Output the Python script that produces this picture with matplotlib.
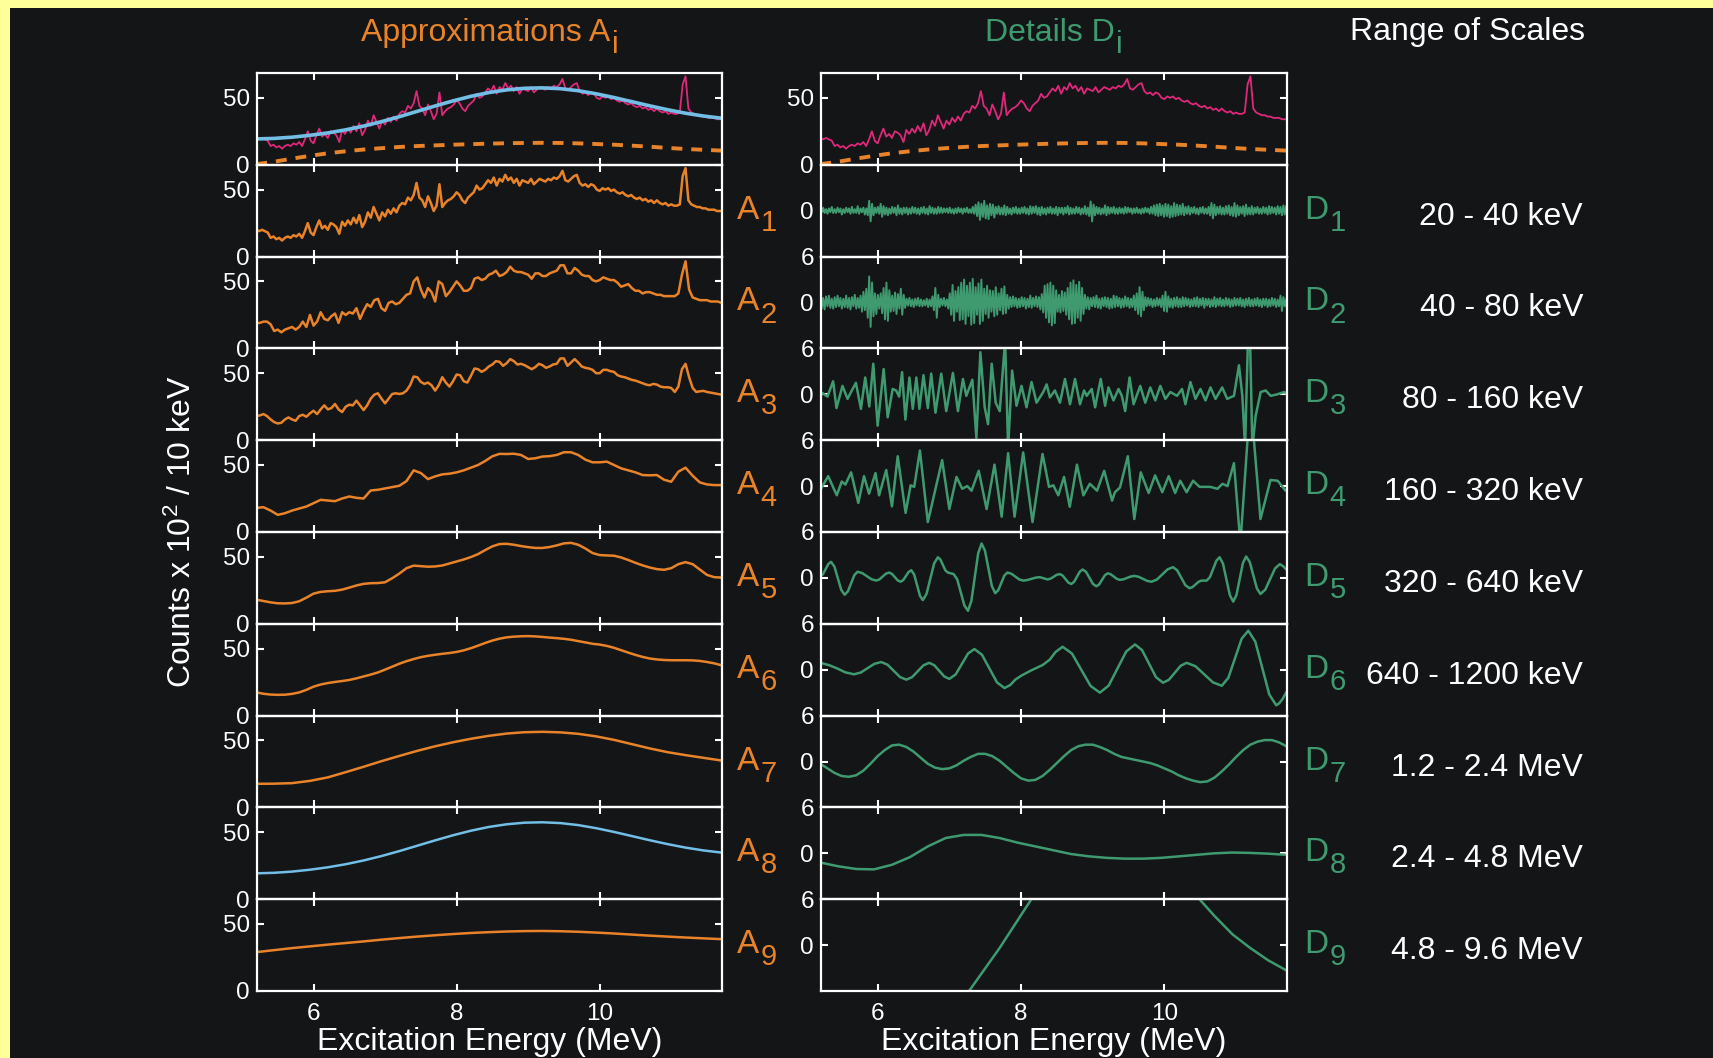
import numpy as np
import matplotlib
matplotlib.use("Agg")
import matplotlib.pyplot as plt
from matplotlib.patches import Rectangle

plt.rcParams['font.family'] = ['Liberation Sans', 'DejaVu Sans']

# ---------------- data ----------------
E_MIN, E_MAX = 5.2, 11.7

# raw spectrum (counts x 10^2 / 10 keV), 5.20 .. 11.72 MeV
spectrum = [20,19,20,19,18,14,15,13,14,12,14,15,14,16,15,17,14,19,25,18,
            16,22,27,21,23,20,25,24,22,17,26,23,27,24,29,25,31,22,26,33,
            29,37,32,27,33,30,35,32,36,33,38,40,39,44,42,
            46,55,44,42,37,45,40,34,38,54,37,40,42,43,45,48,46,42,40,44,46,48,53,50,51,
            54,57,55,59,53,58,56,61,57,59,55,58,53,57,56,55,58,54,56,58,
            57,56,58,57,59,58,60,64,57,56,58,60,61,55,53,54,52,54,53,50,
            49,51,50,51,49,50,48,47,48,46,45,46,44,43,44,42,43,41,42,40,
            42,40,39,40,38,39,38,38,39,60,66,42,39,38,37,37,36,36,35,35,
            35,34,34,34]

# smooth background (dashed)
background = [0.5,2.3,4.6,6.7,8.6,10.1,11.4,12.4,13.3,14.0,14.5,15.0,15.4,15.8,
              16.1,16.3,16.4,16.3,16.0,15.5,15.0,14.3,13.5,12.6,11.8,11.2,10.6]

a2 = [19,19,20,20,18,13,14,12,14,15,16,14,16,20,16,25,17,20,27,22,21,24,26,19,27,25,
      27,26,30,22,28,33,31,36,37,30,28,34,35,33,34,37,40,41,50,53,44,38,45,42,35,50,
      48,39,42,46,50,47,43,43,45,52,53,51,52,55,56,58,54,55,57,61,58,57,57,56,55,52,
      56,56,54,54,56,57,58,62,62,56,56,60,58,55,54,54,51,50,51,53,52,51,51,49,46,47,
      48,45,43,43,41,42,42,41,40,40,39,39,39,39,41,55,65,44,38,37,36,36,36,35,35,35,34]

a3 = [18,18.5,19.5,18,15.5,13.5,12.5,13,15.5,17,15.5,14.5,18,19,17.5,20,22,19.5,23,26,
      23,24,27,23,21,25,26.5,26,29.5,26,22.5,26,31,34,35,31,27.5,31,34.5,35,34.5,35,37,
      41,47.5,47,43.5,42,43,41,37,41,47,43,40,44,49,48.5,44,43,48,53.5,53,51,52.5,55,
      56.5,59,58.5,55.5,57.5,60.5,59,56.5,57,56,54.5,53,54.5,57,56,54,55,56.5,57,61,61,
      55.5,58,60.5,58,55,54,53.5,52.5,50,50,52.5,52.5,51.5,51,48.5,47.5,47,46,45,44.5,
      43.5,42.5,41.5,41,42,41.5,40,39.5,39.5,39,36,40,53,57,47,39,36,36.5,36.8,36,35.5,
      35,34.5,34]

a4 = [18,18.5,16,12.8,14,16,17.5,19,21.5,24,23.5,23,25,26.5,25.5,25,31,31.5,32.5,33.5,
      34.5,38,46,44,39.5,41.5,43,43.5,44.5,46,48,50,53,56.5,58.3,58.2,58.4,57.5,54.5,55,
      56.3,56.6,57.5,59.5,59.5,57.5,54,52,52,52.5,50,47.5,46,44.5,42.5,42.3,42.5,39,37.5,
      45,48,42,37,35.5,35,35]

a5 = [18,17,16,15.3,15.2,15.5,16.8,19.5,22.5,23.8,24.3,24.6,25.5,27,28.6,29.8,30.3,30.4,
      31,34,37.5,41.5,43.4,43,42.6,42.8,43.5,45,46.5,48,49.8,52,55,57.8,59.5,59.7,59,58,
      57.2,56.6,56.6,57.3,58.5,60,60.4,59,56.2,52.8,51.3,51,50.8,49.5,47.6,45.5,43.6,42,
      40.8,40.3,41.5,44.5,46,44.5,40.5,36.5,34.8,34.5]

a6 = [17.3,16.3,15.7,15.5,15.6,16.2,17.3,19.2,21.6,23.2,24.3,25.1,25.8,26.6,27.8,29.2,
      30.6,32.2,34.3,36.5,38.7,40.6,42.2,43.6,44.6,45.4,46.1,46.7,47.5,48.7,50.3,52.2,
      54.2,56,57.4,58.4,58.9,59.2,59.3,59.1,58.7,58.2,57.8,57.3,56.6,55.6,54.6,53.6,53,
      52,50.6,48.8,47,45.3,43.8,42.6,41.9,41.5,41.3,41.3,41.3,41.2,40.8,40,39,37.6]

a7 = [17.6,17.7,18.1,19.8,22.4,26.3,30.3,34.5,38.4,42.2,45.6,48.6,51.2,53.4,55.1,56.1,
      56.4,56,54.9,53,50.4,47.2,44,41.2,39,37,35]

a8 = [19.3,19.7,20.6,22,23.8,26.1,28.9,32.2,35.9,39.9,43.9,47.7,51.1,53.9,55.9,57.1,
      57.4,56.8,55.3,53,50.2,47.1,44,41.1,38.5,36.4,34.8]

a9 = [29,30.5,32,33.3,34.6,35.8,37,38.3,39.5,40.6,41.6,42.5,43.3,43.9,44.4,44.7,44.8,
      44.6,44.2,43.6,42.9,42.1,41.3,40.6,39.9,39.3,38.7]

d1 = [0.3,-0.2,0.4,-0.3,0.2,-0.4,0.3,-0.2,0.5,-0.3, 0.2,-0.3,0.4,-0.2,0.3,-0.5,0.2,-0.3,0.4,-0.2,
      0.3,-0.4,0.5,-0.3,0.2,-0.3,0.6,-0.4,0.3,-0.2, 0.4,-0.5,0.3,-0.6,1.3,-1.4,0.9,-0.6,0.4,-0.3,
      0.5,-0.4,0.9,-0.8,0.6,-0.5,0.4,-0.6,0.3,-0.4, 0.5,-0.3,0.4,-0.6,0.7,-0.4,0.3,-0.5,0.4,-0.3,
      0.4,-0.5,0.3,-0.4,0.5,-0.3,0.4,-0.4,0.3,-0.5, 0.4,-0.3,0.5,-0.4,0.3,-0.5,0.6,-0.3,0.4,-0.4,
      0.3,-0.4,0.5,-0.3,0.4,-0.3,0.3,-0.2,0.3,-0.3, 0.4,-0.3,0.2,-0.4,0.3,-0.3,0.4,-0.2,0.3,-0.4,
      0.3,-0.2,0.4,-0.3,0.2,-0.3,0.5,-0.4,0.8,-0.7, 1.1,-1.2,0.9,-0.8,1.3,-1.0,0.7,-1.1,0.9,-0.6,
      0.8,-0.9,0.5,-0.4,0.6,-0.5,0.4,-0.5,0.7,-0.6, 0.5,-0.4,0.3,-0.5,0.4,-0.3,0.5,-0.4,0.3,-0.4,
      0.4,-0.3,0.5,-0.4,0.3,-0.5,0.6,-0.4,0.5,-0.3, 0.6,-0.5,0.4,-0.6,0.5,-0.4,0.3,-0.5,0.4,-0.3,
      0.5,-0.4,0.3,-0.4,0.5,-0.6,0.4,-0.3,0.4,-0.5, 0.4,-0.3,0.6,-0.5,0.4,-0.4,0.3,-0.4,0.5,-0.3,
      0.4,-0.5,0.3,-0.4,0.6,-0.5,0.4,-0.7,1.2,-1.4, 0.8,-0.6,0.5,-0.4,0.4,-0.5,0.3,-0.4,0.7,-0.6,
      0.5,-0.4,0.4,-0.3,0.5,-0.4,0.3,-0.4,0.4,-0.3, 0.3,-0.4,0.5,-0.3,0.4,-0.2,0.3,-0.4,0.3,-0.3,
      0.4,-0.3,0.2,-0.4,0.3,-0.3,0.4,-0.2,0.3,-0.4, 0.5,-0.4,0.7,-0.6,0.8,-0.7,0.9,-0.6,0.7,-0.8,
      0.9,-0.7,0.8,-0.9,0.6,-0.8,1.0,-0.7,0.8,-0.6, 0.7,-0.5,0.9,-0.6,0.5,-0.4,0.6,-0.5,0.4,-0.3,
      0.5,-0.4,0.3,-0.5,0.4,-0.3,0.5,-0.4,0.3,-0.4, 0.5,-0.6,1.0,-1.0,0.8,-0.6,0.5,-0.4,0.6,-0.5,
      0.4,-0.5,0.6,-0.4,0.7,-0.6,0.5,-0.7,1.0,-0.8, 0.7,-0.6,0.5,-0.4,0.6,-0.7,0.8,-0.5,0.4,-0.5,
      0.6,-0.5,0.4,-0.3,0.5,-0.4,0.3,-0.4,0.5,-0.3, 0.4,-0.5,0.6,-0.4,0.5,-0.3,0.4,-0.5,0.6,-0.4,
      0.5,-0.6,0.7,-0.5,0.6]

d2 = [1.2,-0.8,0.6,-0.9,0.8,-0.5,0.9,-0.7,0.5,-0.8, 0.7,-0.6,0.9,-0.5,0.6,-0.8,0.5,-0.6,0.9,-0.7,
      0.6,-0.9,0.7,-0.5,1.0,-0.8,0.6,-0.7,0.9,-1.2, 1.4,-1.0,1.8,-2.0,3.4,-3.2,2.6,-1.8,1.2,-1.5,
      1.0,-0.8,1.2,-1.4,1.9,-2.2,2.6,-2.4,1.6,-1.2, 0.9,-1.1,1.3,-1.5,1.1,-0.8,1.8,-1.6,1.0,-0.7,
      0.5,-0.4,0.6,-0.5,0.4,-0.6,0.5,-0.4,0.6,-0.5, 0.4,-0.5,0.3,-0.4,0.5,-0.6,0.4,-0.5,0.8,-1.0,
      1.9,-2.0,1.0,-0.6,0.5,-0.4,0.6,-0.5,0.4,-0.8, 1.2,-1.6,2.3,-2.4,1.5,-1.2,2.0,-2.3,2.6,-2.2,
      3.0,-2.8,2.2,-1.8,2.6,-2.9,3.1,-2.7,2.0,-1.6, 2.5,-2.8,3.0,-2.4,1.8,-1.5,2.2,-2.0,1.6,-1.2,
      1.5,-1.8,2.0,-1.6,1.2,-1.0,1.8,-1.5,2.1,-1.4, 1.0,-0.8,0.7,-0.6,0.8,-0.5,0.6,-0.7,0.5,-0.6,
      0.7,-0.5,0.6,-0.8,0.5,-0.6,0.9,-0.7,0.6,-0.5, 0.8,-0.6,0.7,-0.9,1.1,-1.3,2.2,-2.0,2.4,-2.6,
      2.6,-3.0,2.2,-2.7,1.6,-1.2,1.0,-1.3,1.5,-1.1, 1.3,-1.6,1.9,-2.2,2.6,-2.8,2.9,-2.7,2.3,-2.0,
      2.7,-2.4,1.9,-1.5,1.0,-0.8,0.7,-0.9,0.6,-0.5, 0.7,-0.6,0.9,-0.7,0.5,-0.8,0.6,-0.5,0.7,-0.6,
      0.6,-0.8,0.5,-0.7,0.9,-0.6,0.8,-0.5,0.6,-0.7, 0.5,-0.6,0.8,-0.5,0.6,-0.7,0.5,-0.6,0.9,-1.0,
      1.2,-1.5,2.0,-1.8,1.4,-1.0,0.7,-0.5,0.6,-0.4, 0.5,-0.6,0.4,-0.5,0.6,-0.4,0.5,-0.6,0.9,-1.1,
      1.4,-1.2,0.8,-0.6,0.5,-0.7,0.6,-0.5,0.7,-0.6, 0.5,-0.6,0.7,-0.5,0.6,-0.4,0.5,-0.6,0.4,-0.5,
      0.6,-0.5,0.7,-0.6,0.5,-0.4,0.6,-0.7,0.5,-0.4, 0.5,-0.6,0.4,-0.5,0.7,-0.6,0.5,-0.4,0.6,-0.5,
      0.4,-0.5,0.6,-0.4,0.5,-0.6,0.4,-0.5,0.6,-0.4, 0.5,-0.4,0.6,-0.5,0.4,-0.6,0.5,-0.4,0.6,-0.5,
      0.4,-0.5,0.5,-0.4,0.6,-0.5,0.4,-0.6,0.5,-0.4, 0.5,-0.6,0.4,-0.5,0.6,-0.4,0.5,-0.6,0.4,-0.5,
      0.9,-1.1,0.7,-0.5,0.4]

d3_e = [5.207,5.30,5.379,5.426,5.510,5.580,5.640,5.697,5.767,5.827,5.883,5.939,6.000,6.084,
        6.140,6.210,6.257,6.300,6.341,6.387,6.443,6.490,6.540,6.583,6.639,6.700,6.747,6.807,
        6.887,6.957,7.050,7.120,7.190,7.237,7.321,7.377,7.433,7.493,7.540,7.591,7.647,7.703,
        7.778,7.820,7.876,7.937,8.007,8.077,8.147,8.217,8.310,8.357,8.403,8.473,8.543,8.613,
        8.683,8.753,8.823,8.879,8.916,8.986,9.033,9.112,9.173,9.220,9.290,9.360,9.406,9.453,
        9.514,9.570,9.663,9.733,9.803,9.873,9.943,10.013,10.083,10.176,10.246,10.293,10.363,
        10.433,10.503,10.573,10.643,10.713,10.806,10.876,10.970,11.040,11.087,11.125,11.165,
        11.195,11.227,11.273,11.343,11.413,11.483,11.576,11.670,11.71]
d3_v = [0.3,-0.3,1.7,-1.8,1.1,-0.6,0.5,1.5,-1.9,2.2,-1.6,4.0,-4.1,3.3,
        -3.0,0.7,0.5,-0.3,2.9,-3.3,2.2,-1.9,2.2,-1.9,2.5,-1.8,2.7,-2.4,
        2.7,-2.2,2.8,-2.2,2.0,-0.2,1.9,-5.7,5.5,-1.7,-3.9,4.0,-1.1,-2.2,
        7.0,-7.0,3.1,-1.5,1.1,-1.7,1.6,-1.1,0.3,1.3,-0.4,0.5,-1.1,2.0,
        -1.3,2.0,-1.3,0.5,-0.2,0.7,-1.7,2.0,-1.5,0.9,-0.8,0.7,-0.2,-2.2,
        2.2,-1.3,1.1,-1.1,0.9,-0.8,1.1,-0.6,0.3,-0.2,0.7,-1.3,1.6,
        -0.6,0.7,-0.8,0.9,-0.6,0.9,-0.6,-0.2,3.8,-0.2,-7.0,7.0,
        7.0,-7.0,-2.8,0.3,0.5,-0.2,0.0,0.3,0.1]

d4_e = [5.21,5.31,5.43,5.50,5.55,5.63,5.73,5.81,5.88,5.97,6.02,6.12,6.20,6.28,6.39,6.46,
        6.51,6.59,6.70,6.90,7.00,7.10,7.18,7.25,7.31,7.41,7.52,7.63,7.73,7.82,7.91,8.03,
        8.16,8.30,8.39,8.45,8.52,8.60,8.68,8.78,8.87,8.96,9.06,9.16,9.27,9.31,9.38,9.49,
        9.58,9.67,9.78,9.87,9.97,10.06,10.15,10.22,10.31,10.40,10.49,10.64,10.74,10.81,
        10.88,10.97,11.06,11.17,11.24,11.34,11.48,11.58,11.69,11.71]
d4_v = [-0.35,1.3,-1.2,0.6,0.2,1.8,-2.2,1.3,-1.0,1.7,-1.2,2.1,-2.65,3.9,-3.5,0.1,
        -0.1,4.65,-4.7,3.4,-3.0,1.2,-0.35,0.0,-0.6,2.0,-3.0,2.8,-4.0,4.3,-4.0,4.4,
        -4.7,4.2,-0.1,0.1,-1.2,1.2,-2.7,2.8,-1.2,0.3,-0.6,2.0,-1.9,-0.8,-0.2,3.9,
        -4.3,1.8,-0.9,1.4,-0.8,1.3,-0.9,0.7,-0.8,0.7,-0.1,-0.1,-0.35,0.3,
        0.0,3.0,-7.5,7.5,7.0,-4.3,0.8,0.7,-0.6,-0.5]

d5_e = [5.20,5.2375,5.275,5.3125,5.35,5.3975,5.445,5.4925,5.54,5.585,5.63,5.675,5.72,
        5.785,5.85,5.915,5.98,6.025,6.07,6.115,6.16,6.20,6.24,6.28,6.32,6.3575,6.395,
        6.4325,6.47,6.51,6.55,6.59,6.63,6.6825,6.735,6.7875,6.84,6.875,6.91,6.945,6.98,
        7.06,7.11,7.16,7.21,7.26,7.3075,7.355,7.4025,7.45,7.4975,7.545,7.5925,7.64,
        7.6825,7.725,7.7675,7.81,7.865,7.92,7.975,8.03,8.0875,8.145,8.2025,8.26,8.315,
        8.37,8.4125,8.455,8.4975,8.54,8.58,8.62,8.66,8.70,8.74,8.78,8.82,8.86,8.9075,
        8.955,9.0025,9.05,9.09,9.13,9.17,9.21,9.2525,9.295,9.3375,9.38,9.43,9.48,9.53,
        9.58,9.64,9.70,9.76,9.82,9.895,9.97,10.045,10.12,10.1775,10.235,10.2925,10.35,
        10.3925,10.435,10.4775,10.52,10.59,10.635,10.68,10.725,10.77,10.8175,10.865,
        10.9125,10.96,11.005,11.05,11.095,11.14,11.19,11.24,11.29,11.34,11.4075,11.475,
        11.5425,11.61,11.66,11.71]
d5_v = [0.2,0.48,1.15,1.82,2.1,1.47,-0.05,-1.57,-2.2,-1.76,-0.7,0.36,0.8,
        0.63,0.23,-0.18,-0.35,-0.2,0.18,0.55,0.7,0.52,0.1,-0.32,-0.5,-0.28,0.25,
        0.78,1.0,0.43,-0.95,-2.33,-2.9,-2.08,-0.1,1.88,2.7,2.41,1.7,0.99,0.7,
        0.5,-0.2,-1.9,-3.6,-4.3,-3.02,0.1,3.22,4.5,3.55,1.25,-1.05,-2.0,
        -1.61,-0.65,0.31,0.7,0.55,0.18,-0.2,-0.35,-0.28,-0.13,0.03,0.1,-0.05,
        -0.2,-0.1,0.15,0.4,0.5,0.31,-0.15,-0.61,-0.8,-0.52,0.15,0.82,1.1,0.78,
        0.0,-0.78,-1.1,-0.85,-0.25,0.35,0.6,0.47,0.17,-0.13,-0.26,-0.18,0.0,0.18,
        0.26,0.15,-0.12,-0.39,-0.5,-0.22,0.45,1.12,1.4,1.0,0.03,-0.95,-1.35,
        -1.2,-0.85,-0.5,-0.35,-0.35,0.1,1.18,2.25,2.7,1.85,-0.2,
        -2.25,-3.1,-2.24,-0.15,1.94,2.8,2.08,0.35,-1.38,-2.1,-1.53,-0.15,
        1.23,1.8,1.5,1.0]

d6_e = [5.20,5.32,5.44,5.55,5.67,5.765,5.86,5.955,6.05,6.1375,6.225,6.3125,6.40,6.48,6.56,
        6.64,6.72,6.79,6.86,6.93,7.00,7.0875,7.175,7.2625,7.35,7.455,7.56,7.665,7.77,7.85,
        7.92,8.00,8.14,8.30,8.40,8.48,8.58,8.71,8.84,8.97,9.10,9.2225,9.345,9.4675,9.59,
        9.6875,9.785,9.8825,9.98,10.0625,10.145,10.2275,10.31,10.4325,10.555,10.6775,10.80,
        10.8925,10.985,11.0775,11.17,11.2675,11.365,11.4625,11.56,11.60,11.65,11.71]
d6_v = [0.9,0.6,0.15,-0.35,-0.6,-0.37,0.2,0.77,1.0,0.66,-0.15,-0.96,-1.3,-0.98,-0.2,
        0.58,0.9,0.59,-0.15,-0.89,-1.2,-0.63,0.75,2.13,2.7,1.96,0.15,-1.66,-2.4,-2.0,
        -1.3,-0.8,-0.1,0.6,1.3,2.3,3.0,2.12,0.0,-2.12,-3.0,-2.08,0.15,2.38,3.3,
        2.57,0.8,-0.97,-1.7,-1.32,-0.4,0.52,0.9,0.46,-0.6,-1.66,-2.1,
        -1.05,1.5,4.05,5.1,3.68,0.23,-3.23,-4.65,-4.4,-3.8,-2.8]

d7 = [-0.3,-0.9,-1.5,-1.9,-2.0,-1.8,-1.2,-0.3,0.7,1.5,2.1,2.2,1.9,1.3,0.5,-0.3,-0.8,-1.0,
      -0.9,-0.5,0.1,0.6,1.0,1.0,0.7,0.1,-0.7,-1.5,-2.2,-2.5,-2.4,-1.9,-1.1,-0.2,0.7,1.5,
      2.0,2.2,2.2,1.9,1.5,1.0,0.6,0.4,0.2,0.0,-0.2,-0.5,-0.9,-1.3,-1.8,-2.2,-2.5,-2.7,
      -2.6,-2.1,-1.3,-0.4,0.6,1.5,2.2,2.6,2.8,2.8,2.5,2.0]

d8 = [-1.2,-1.7,-2.05,-2.1,-1.5,-0.5,0.9,2.0,2.4,2.4,2.0,1.4,0.9,0.4,-0.1,-0.4,-0.6,
      -0.7,-0.7,-0.6,-0.4,-0.2,0.0,0.1,0.05,-0.05,-0.2]

d9 = [-25,-24,-22.5,-20.5,-18,-15.5,-13,-10.5,-7,-3.7,-0.4,3.2,6.8,10,12.5,14,14.5,14,
      12.5,10.5,8.5,6.4,3.8,1.4,-0.4,-2,-3.3]

range_labels = ['20 - 40 keV', '40 - 80 keV', '80 - 160 keV', '160 - 320 keV',
                '320 - 640 keV', '640 - 1200 keV', '1.2 - 2.4 MeV', '2.4 - 4.8 MeV',
                '4.8 - 9.6 MeV']

# ---------------- style ----------------
BG = '#141517'
YELLOW = '#FFFF99'
ORANGE = '#E8832A'
GREEN = '#3F9A70'
PINK = '#E0287A'
BLUE = '#72BEE6'
WHITE = 'white'

W, H = 1713, 1058
fig = plt.figure(figsize=(W / 100, H / 100), dpi=100, facecolor=BG)
renderer = fig.canvas.get_renderer()
fig.patches.append(Rectangle((0, 1 - 8 / H), 1, 8 / H, transform=fig.transFigure,
                             facecolor=YELLOW, edgecolor='none', zorder=-5))
fig.patches.append(Rectangle((0, 0), 10 / W, 1, transform=fig.transFigure,
                             facecolor=YELLOW, edgecolor='none', zorder=-5))

TOP, BOT = 73, 991
NROW = 10
PH = (BOT - TOP) / NROW
LX0, LX1 = 257, 722
RX0, RX1 = 821, 1287


def make_ax(x0, x1, k):
    yt = TOP + k * PH
    ax = fig.add_axes([x0 / W, 1 - (yt + PH) / H, (x1 - x0) / W, PH / H])
    ax.set_facecolor('none')
    for s in ax.spines.values():
        s.set_color(WHITE)
        s.set_linewidth(1.6)
    ax.set_xlim(5.21, 11.71)
    ax.set_xticks([6, 8, 10])
    ax.tick_params(axis='both', direction='in', top=True, right=True, length=5,
                   width=1.5, color=WHITE, labelcolor=WHITE, labelsize=17.5)
    ax.tick_params(axis='y', pad=5)
    ax.tick_params(axis='x', pad=9)
    if k < NROW - 1:
        ax.tick_params(axis='x', labelbottom=False)
    return ax


def grid(vals):
    return np.linspace(E_MIN, E_MAX, len(vals))


def sub_label(x_px, base_px, main, sub, color, size=24, subsize=21, drop=12,
              ha='left'):
    t = fig.text(0, 0, main, fontsize=size, color=color, ha='left', va='baseline')
    s = fig.text(0, 0, sub, fontsize=subsize, color=color, ha='left', va='baseline')
    wm = t.get_window_extent(renderer).width
    ws = s.get_window_extent(renderer).width
    gap = 1.5
    x0 = x_px if ha == 'left' else x_px - (wm + gap + ws) / 2
    t.set_position((x0 / W, 1 - base_px / H))
    s.set_position(((x0 + wm + gap) / W, 1 - (base_px + drop) / H))


x_spec = np.linspace(5.2, 11.72, len(spectrum))

approx = [spectrum, a2, a3, a4, a5, a6, a7, a8, a9]
approx_x = [x_spec] + [grid(v) for v in approx[1:]]
details = [(grid(d1), d1), (grid(d2), d2), (d3_e, d3_v), (d4_e, d4_v), (d5_e, d5_v),
           (d6_e, d6_v), (grid(d7), d7), (grid(d8), d8), (grid(d9), d9)]

# left column
for k in range(NROW):
    ax = make_ax(LX0, LX1, k)
    ax.set_ylim(0, 68.5)
    ax.set_yticks([0, 50])
    if k == 0:
        ax.plot(x_spec, spectrum, color=PINK, lw=1.3)
        ax.plot(grid(a8), a8, color=BLUE, lw=2.6)
        ax.plot(grid(background), background, color=ORANGE, lw=2.8,
                linestyle=(0, (2.8, 2.3)))
    else:
        col = BLUE if k == 8 else ORANGE
        ax.plot(approx_x[k - 1], approx[k - 1], color=col, lw=1.8)
    if k == NROW - 1:
        ax.set_xticklabels(['6', '8', '10'])

# right column
for k in range(NROW):
    ax = make_ax(RX0, RX1, k)
    if k == 0:
        ax.set_ylim(0, 68.5)
        ax.set_yticks([0, 50])
        ax.plot(x_spec, spectrum, color=PINK, lw=1.3)
        ax.plot(grid(background), background, color=ORANGE, lw=2.8,
                linestyle=(0, (2.8, 2.3)))
    else:
        ax.set_ylim(-6, 6)
        ax.set_yticks([0] if k == 1 else [0, 6])
        dx, dy = details[k - 1]
        ax.plot(dx, dy, color=GREEN, lw=1.4 if k <= 2 else 1.8)
    if k == NROW - 1:
        ax.set_xticklabels(['6', '8', '10'])

# row labels
for k in range(1, NROW):
    cy = TOP + PH * (k + 0.5)
    sub_label(737, cy + 8, 'A', str(k), ORANGE)
    sub_label(1304, cy + 8, 'D', str(k), GREEN)
    fig.text(1583 / W, 1 - (cy + 14) / H, range_labels[k - 1], color=WHITE,
             fontsize=23, ha='right', va='baseline')

# titles
sub_label((LX0 + LX1) / 2, 41, 'Approximations A', 'i', ORANGE, size=23, subsize=22,
          drop=12, ha='center')
sub_label((RX0 + RX1) / 2, 41, 'Details D', 'i', GREEN, size=23, subsize=22,
          drop=12, ha='center')
fig.text(1585 / W, 1 - 40 / H, 'Range of Scales', color=WHITE, fontsize=23,
         ha='right', va='baseline')

fig.text(182 / W, 1 - 532 / H, r'Counts x 10$\mathregular{^2}$ / 10 keV', color=WHITE,
         fontsize=23, rotation=90, ha='center', va='center')
for x0, x1 in [(LX0, LX1), (RX0, RX1)]:
    fig.text((x0 + x1) / 2 / W, 1 - 1050 / H, 'Excitation Energy (MeV)', color=WHITE,
             fontsize=23, ha='center', va='baseline')

fig.savefig('out.png', dpi=100, facecolor=BG)
